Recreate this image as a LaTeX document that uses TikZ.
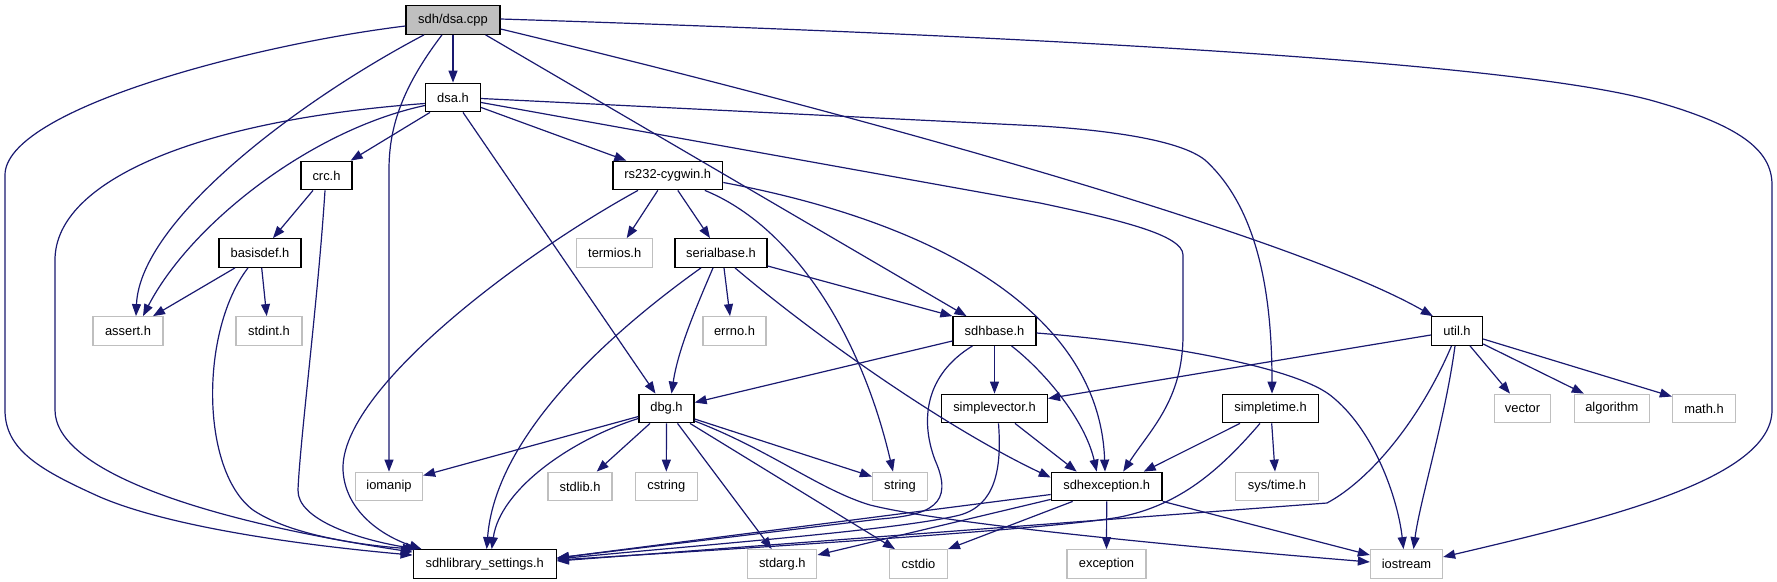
\documentclass[tikz,border=0pt]{standalone}
\usepackage{fontspec}
\setmainfont{Liberation Sans}
\usetikzlibrary{arrows.meta,calc}
\definecolor{edgeblue}{HTML}{191970}
\definecolor{extgray}{HTML}{BFBFBF}
\definecolor{rootgray}{HTML}{BFBFBF}
\begin{document}
\begin{tikzpicture}[x=1pt,y=-1pt,
  box/.style={draw=black,line width=1.3pt,fill=white,minimum height=28.5pt,inner sep=0pt,
    font=\fontsize{12.9}{14}\selectfont},
  ext/.style={box,draw=extgray},
  root/.style={box,fill=rootgray},
  edge/.style={draw=edgeblue,line width=1.2pt,-{Triangle[length=12pt,width=9pt]}}]
\useasboundingbox (0,0) rectangle (1777,581);
% nodes
\node[root,minimum width=94pt] (cpp) at (453,20) {sdh/dsa.cpp};
\node[box,minimum width=55pt] (dsah) at (453,97.5) {dsa.h};
\node[box,minimum width=51pt] (crc) at (326.5,175.5) {crc.h};
\node[box,minimum width=109.7pt] (rs232) at (667.8,175.5) {rs232-cygwin.h};
\node[box,minimum width=82pt] (basisdef) at (260,253) {basisdef.h};
\node[ext,minimum width=76pt] (termios) at (614.7,253) {termios.h};
\node[box,minimum width=92pt] (serialbase) at (721,253) {serialbase.h};
\node[ext,minimum width=70pt] (assert) at (128,331) {assert.h};
\node[ext,minimum width=66pt] (stdint) at (269,331) {stdint.h};
\node[ext,minimum width=63pt] (errno) at (734.5,331) {errno.h};
\node[box,minimum width=83pt] (sdhbase) at (994.5,331) {sdhbase.h};
\node[box,minimum width=51pt] (util) at (1457,331) {util.h};
\node[box,minimum width=55pt] (dbg) at (666.5,408.5) {dbg.h};
\node[box,minimum width=105.7pt] (simplevector) at (994.5,408.5) {simplevector.h};
\node[box,minimum width=96pt] (simpletime) at (1270.5,408.5) {simpletime.h};
\node[ext,minimum width=56pt] (vector) at (1522.5,408.5) {vector};
\node[ext,minimum width=75pt] (algorithm) at (1611.8,408.5) {algorithm};
\node[ext,minimum width=63pt] (mathh) at (1704,408.5) {math.h};
\node[ext,minimum width=67pt] (iomanip) at (389,486.5) {iomanip};
\node[ext,minimum width=64pt] (stdlib) at (580,486.5) {stdlib.h};
\node[ext,minimum width=62pt] (cstring) at (666.3,486.5) {cstring};
\node[ext,minimum width=55pt] (string) at (900,486.5) {string};
\node[box,minimum width=110.7pt] (sdhexc) at (1106.7,486.5) {sdhexception.h};
\node[ext,minimum width=83pt] (systime) at (1277,486.5) {sys/time.h};
\node[box,minimum width=143pt] (sdhlib) at (484.7,564) {sdhlibrary\_settings.h};
\node[ext,minimum width=69pt] (stdarg) at (782.3,564) {stdarg.h};
\node[ext,minimum width=57.7pt] (cstdio) at (918.5,564) {cstdio};
\node[ext,minimum width=79pt] (exception) at (1106.5,564) {exception};
\node[ext,minimum width=72pt] (iostream) at (1406.5,564) {iostream};
% edges from sdh/dsa.cpp
\draw[edge] (cpp.south) -- (dsah.north);
\draw[edge] ($(cpp.south)+(-29,0)$) .. controls (300,100) and (140,220) .. ($(assert.north)+(8,0)$);
\draw[edge] ($(cpp.south)+(-11,0)$) .. controls (400,90) and (389,130) .. (389,170) -- (iomanip.north);
\draw[edge] ($(cpp.west)+(0,6)$) .. controls (250,45) and (5,110) .. (5,175) -- (5,410)
  .. controls (5,450) and (40,470) .. (100,497) .. controls (170,527) and (300,545) .. ($(sdhlib.north west)+(0,6)$);
\draw[edge] ($(cpp.south east)+(-15,0)$) -- ($(sdhbase.north)+(-28,0)$);
\draw[edge] ($(cpp.east)+(0,9)$) .. controls (900,125) and (1300,240) .. ($(util.north west)+(2,0)$);
\draw[edge] ($(cpp.east)+(0,-1)$) .. controls (1000,35) and (1500,60) .. (1650,100)
  .. controls (1740,125) and (1772,150) .. (1772,185) -- (1772,410)
  .. controls (1772,480) and (1600,520) .. ($(iostream.east)+(0,-7)$);
% edges from dsa.h
\draw[edge] ($(dsah.west)+(0,8)$) .. controls (310,130) and (190,225) .. ($(assert.north)+(15,0)$);
\draw[edge] ($(dsah.west)+(0,6)$) .. controls (200,120) and (55,180) .. (55,260) -- (55,410)
  .. controls (55,470) and (200,520) .. ($(sdhlib.north west)+(0,3)$);
\draw[edge] ($(dsah.south)+(-23,0)$) -- ($(crc.north east)+(-2,0)$);
\draw[edge] ($(dsah.south)+(10,0)$) -- ($(dbg.north)+(-11,0)$);
\draw[edge] ($(dsah.east)+(0,10)$) -- ($(rs232.north west)+(14,0)$);
\draw[edge] ($(dsah.east)+(0,1)$) -- (1040,126) .. controls (1150,133) and (1190,148) .. (1205,160)
  .. controls (1260,210) and (1272,300) .. ($(simpletime.north)+(1.5,0)$);
\draw[edge] ($(dsah.east)+(0,5)$) -- (1040,203) .. controls (1120,220) and (1183,235) .. (1183,255) -- (1183,335)
  .. controls (1183,400) and (1150,430) .. ($(sdhexc.north)+(16.5,0)$);
% crc.h, basisdef.h
\draw[edge] ($(crc.south)+(-13.5,0)$) -- ($(basisdef.north)+(13,0)$);
\draw[edge] ($(crc.south)+(-1.5,0)$) .. controls (318,300) and (300,440) .. (298,490)
  .. controls (297,520) and (360,540) .. ($(sdhlib.north west)+(5,0)$);
\draw[edge] ($(basisdef.south)+(-25,0)$) -- ($(assert.north)+(25,0)$);
\draw[edge] ($(basisdef.south)+(1.7,0)$) -- ($(stdint.north)+(-2.3,0)$);
\draw[edge] ($(basisdef.south)+(-12,0)$) .. controls (200,330) and (200,470) .. (253,510)
  .. controls (290,535) and (360,545) .. ($(sdhlib.north west)+(2,0)$);
% rs232-cygwin.h
\draw[edge] ($(rs232.south)+(-29.8,0)$) .. controls (520,255) and (340,390) .. (343,470)
  .. controls (345,510) and (380,535) .. ($(sdhlib.north west)+(9,0)$);
\draw[edge] ($(rs232.south)+(-10,0)$) -- ($(termios.north)+(12,0)$);
\draw[edge] ($(rs232.south)+(10,0)$) -- ($(serialbase.north)+(-11,0)$);
\draw[edge] ($(rs232.south)+(37,0)$) .. controls (790,225) and (860,330) .. ($(string.north)+(-7,0)$);
\draw[edge] ($(rs232.east)+(0,7)$) .. controls (950,225) and (1100,320) .. ($(sdhexc.north)+(-1.7,0)$);
% serialbase.h
\draw[edge] ($(serialbase.south)+(-20,0)$) .. controls (600,340) and (495,440) .. ($(sdhlib.north)+(2,0)$);
\draw[edge] ($(serialbase.south)+(-8,0)$) .. controls (695,310) and (678,350) .. ($(dbg.north)+(5,0)$);
\draw[edge] ($(serialbase.south)+(3,0)$) -- ($(errno.north)+(-4.5,0)$);
\draw[edge] ($(serialbase.south)+(14,0)$) .. controls (820,340) and (950,430) .. ($(sdhexc.west)+(0,-9)$);
\draw[edge] ($(serialbase.east)+(0,13)$) -- (sdhbase.north west);
% sdhbase.h
\draw[edge] ($(sdhbase.west)+(0,10)$) -- ($(dbg.east)+(0,-6)$);
\draw[edge] ($(sdhbase.south)+(-22,0)$) .. controls (925,375) and (920,420) .. (935,460)
  .. controls (955,505) and (930,515) .. (880,519) -- ($(sdhlib.east)+(0,-6)$);
\draw[edge] (sdhbase.south) -- (simplevector.north);
\draw[edge] ($(sdhbase.south)+(17,0)$) .. controls (1045,372) and (1085,420) .. ($(sdhexc.north)+(-10,0)$);
\draw[edge] ($(sdhbase.east)+(0,2)$) .. controls (1150,342) and (1290,365) .. (1330,395)
  .. controls (1375,430) and (1398,500) .. ($(iostream.north)+(-3,0)$);
% dbg.h
\draw[edge] ($(dbg.west)+(0,8)$) -- ($(iomanip.east)+(0,-11)$);
\draw[edge] ($(dbg.west)+(0,10)$) .. controls (570,440) and (500,490) .. ($(sdhlib.north)+(7,0)$);
\draw[edge] ($(dbg.south)+(-16.5,0)$) -- ($(stdlib.north)+(16.7,0)$);
\draw[edge] (dbg.south) -- (cstring.north);
\draw[edge] ($(dbg.south)+(11,0)$) -- ($(stdarg.north)+(-10.6,0)$);
\draw[edge] ($(dbg.south)+(23.5,0)$) -- ($(cstdio.north)+(-23.5,0)$);
\draw[edge] ($(dbg.east)+(0,10.5)$) -- ($(string.west)+(0,-10)$);
\draw[edge] ($(dbg.east)+(0,12.5)$) .. controls (770,450) and (820,490) .. (870,505)
  .. controls (950,525) and (1200,548) .. ($(iostream.west)+(0,-2)$);
% simplevector.h
\draw[edge] ($(simplevector.south)+(20.5,0)$) -- ($(sdhexc.north)+(-30,0)$);
\draw[edge] ($(simplevector.south)+(4,0)$) .. controls (1002,470) and (995,505) .. (960,515)
  .. controls (900,530) and (700,545) .. ($(sdhlib.east)+(0,-5)$);
% util.h
\draw[edge] ($(util.west)+(0,4)$) -- ($(simplevector.east)+(0,-10)$);
\draw[edge] ($(util.south)+(-5.5,0)$) .. controls (1420,420) and (1370,480) .. (1327,503) -- ($(sdhlib.east)+(0,-3)$);
\draw[edge] ($(util.south)+(-2,0)$) .. controls (1445,420) and (1420,500) .. ($(iostream.north)+(7,0)$);
\draw[edge] ($(util.south)+(13,0)$) -- ($(vector.north)+(-12.5,0)$);
\draw[edge] ($(util.east)+(0,13)$) -- ($(algorithm.north)+(-28,0)$);
\draw[edge] ($(util.east)+(0,8)$) -- ($(mathh.west)+(0,-12)$);
% simpletime.h
\draw[edge] ($(simpletime.south)+(-30.5,0)$) -- ($(sdhexc.north east)+(-19,0)$);
\draw[edge] ($(simpletime.south)+(-10.5,0)$) .. controls (1220,470) and (1180,505) .. (1120,517)
  .. controls (1060,528) and (800,545) .. ($(sdhlib.east)+(0,-4)$);
\draw[edge] ($(simpletime.south)+(1.2,0)$) -- ($(systime.north)+(-2,0)$);
% sdhexception.h
\draw[edge] ($(sdhexc.west)+(0,8)$) -- ($(sdhlib.east)+(0,-6)$);
\draw[edge] ($(sdhexc.south west)+(0,-2)$) -- ($(stdarg.east)+(0,-9)$);
\draw[edge] ($(sdhexc.south west)+(22,0)$) -- (cstdio.north east);
\draw[edge] (sdhexc.south) -- (exception.north);
\draw[edge] (sdhexc.south east) -- ($(iostream.west)+(0,-9)$);
\end{tikzpicture}
\end{document}
